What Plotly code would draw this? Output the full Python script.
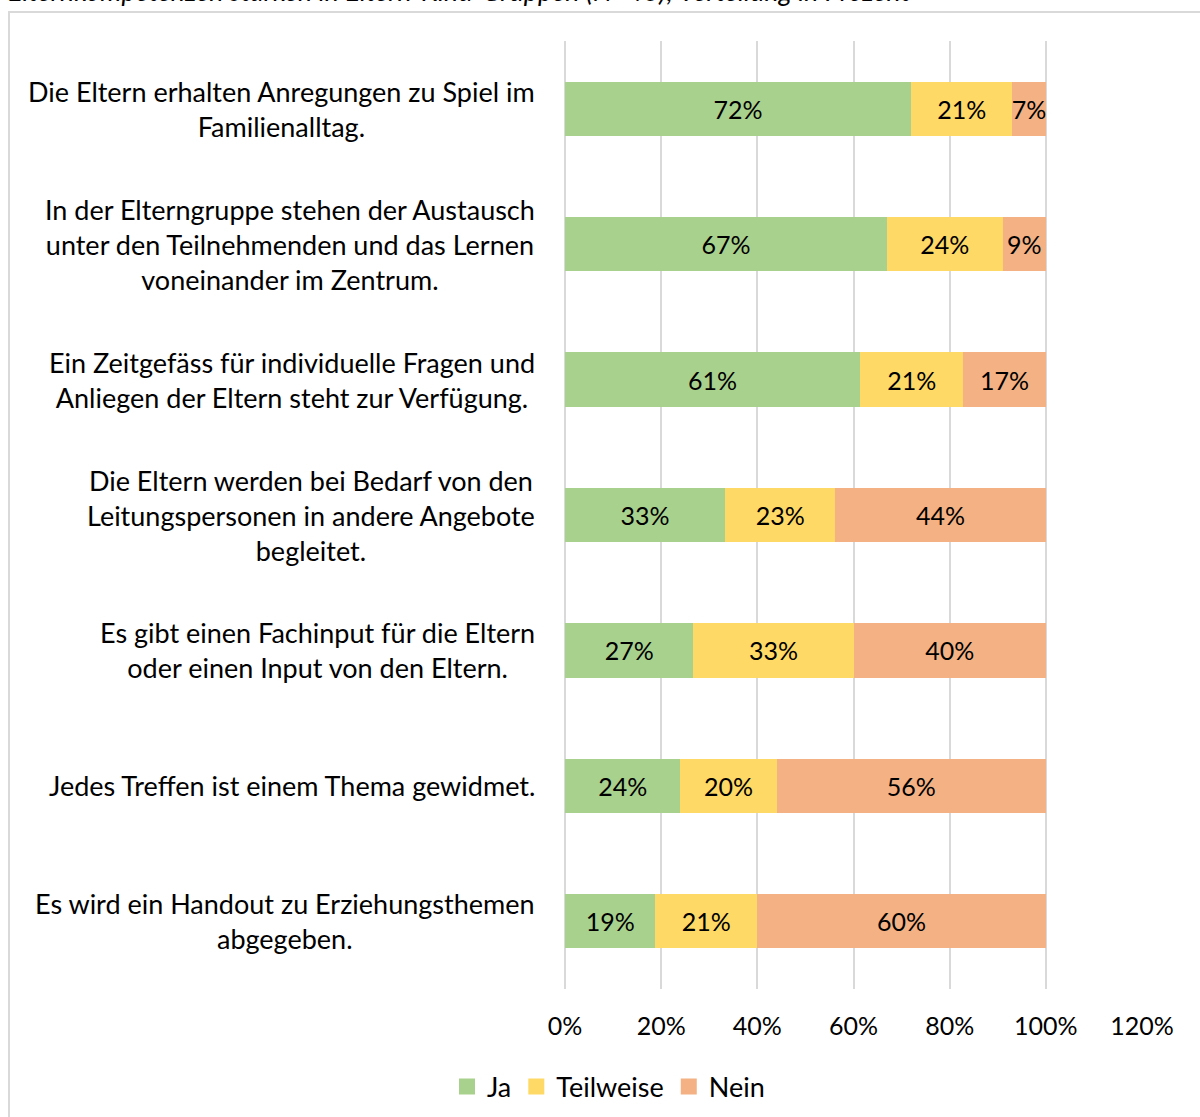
import plotly.graph_objects as go

# ---- data ----
categories = [
    "Die Eltern erhalten Anregungen zu Spiel im<br>Familienalltag.",
    "In der Elterngruppe stehen der Austausch<br>unter den Teilnehmenden und das Lernen<br>voneinander im Zentrum.",
    "Ein Zeitgefäss für individuelle Fragen und<br>Anliegen der Eltern steht zur Verfügung.",
    "Die Eltern werden bei Bedarf von den<br>Leitungspersonen in andere Angebote<br>begleitet.",
    "Es gibt einen Fachinput für die Eltern<br>oder einen Input von den Eltern.",
    "Jedes Treffen ist einem Thema gewidmet.",
    "Es wird ein Handout zu Erziehungsthemen<br>abgegeben.",
]
ja = [72, 67, 61.4, 33.3, 26.7, 24, 18.8]
teilweise = [21, 24, 21.4, 22.9, 33.3, 20, 21.2]
nein = [7, 9, 17.2, 43.8, 40.0, 56, 60]
series_names = ["Ja", "Teilweise", "Nein"]
tick_vals = [0, 20, 40, 60, 80, 100, 120]
tick_text = ["0%", "20%", "40%", "60%", "80%", "100%", "120%"]
title_text = "Elternkompetenzen stärken in Eltern-Kind-Gruppen (N=43); Verteilung in Prozent"

# ---- style ----
colors = ["#A9D18E", "#FFD966", "#F4B183"]
FONT = "Lato"
FS_CAT = 27
FS_BAR = 25
FS_TICK = 25
FS_LEG = 27
W, H = 1200, 1117
ML, MR, MT, MB = 565, 58, 41, 128
plot_w = W - ML - MR
plot_h = H - MT - MB

fig = go.Figure()
for name, vals, col in zip(series_names, [ja, teilweise, nein], colors):
    fig.add_trace(go.Bar(
        y=categories, x=vals, name=name, orientation="h",
        marker=dict(color=col, line=dict(width=0)),
        text=[f"{v:.0f}%" for v in vals],
        textposition="inside", insidetextanchor="middle",
        textangle=0,
        constraintext="none",
        textfont=dict(family=FONT, size=FS_BAR, color="black"),
        width=0.4,
        hoverinfo="skip",
        showlegend=False,
    ))
# legend entries (square swatches)
for name, col in zip(series_names, colors):
    fig.add_trace(go.Scatter(
        x=[None], y=[None], mode="markers", name=name,
        marker=dict(symbol="square", size=16, color=col),
        hoverinfo="skip",
    ))

for cat in categories:
    fig.add_annotation(
        x=0, xref="paper", y=cat, yref="y",
        text=cat, showarrow=False,
        xanchor="right", yanchor="middle", align="center",
        xshift=-28,
        font=dict(family=FONT, size=FS_CAT, color="black"),
    )

# cut-off title at the very top (as in the reference)
fig.add_annotation(
    x=(6 - ML) / plot_w, xref="paper",
    y=1 + (MT - 9) / plot_h, yref="paper",
    text=f"<i>{title_text}</i>", showarrow=False,
    xanchor="left", yanchor="bottom",
    font=dict(family=FONT, size=FS_CAT, color="black"),
)

# chart border (light grey)
fig.add_shape(
    type="rect", xref="paper", yref="paper",
    x0=(9 - ML) / plot_w, x1=(W + 20 - ML) / plot_w,
    y0=1 - (H + 20 - MT) / plot_h, y1=1 + (MT - 12) / plot_h,
    line=dict(color="#D9D9D9", width=2), fillcolor="rgba(0,0,0,0)",
    layer="below",
)

fig.update_layout(
    width=W, height=H,
    margin=dict(l=ML, r=MR, t=MT, b=MB, pad=0),
    barmode="stack",
    bargap=0.6,
    plot_bgcolor="white", paper_bgcolor="white",
    font=dict(family=FONT, size=FS_CAT, color="black"),
    uniformtext=dict(mode="show", minsize=FS_BAR),
    showlegend=True,
    legend=dict(
        orientation="h",
        xref="container", yref="container",
        x=447 / W, xanchor="left",
        y=(H - 1087) / H, yanchor="middle",
        font=dict(family=FONT, size=FS_LEG, color="black"),
        itemsizing="trace",
        traceorder="normal",
    ),
    xaxis=dict(
        range=[0, 120], tickvals=tick_vals, ticktext=tick_text,
        showgrid=True, gridcolor="#D9D9D9", gridwidth=2,
        zeroline=True, zerolinecolor="#D9D9D9", zerolinewidth=2,
        showline=False, ticks="", ticklabelstandoff=20,
        tickfont=dict(family=FONT, size=FS_TICK, color="black"),
        fixedrange=True, automargin=False,
    ),
    yaxis=dict(
        autorange="reversed", showticklabels=False, showgrid=False,
        showline=False, ticks="", zeroline=False, fixedrange=True,
        automargin=False,
    ),
)

fig.write_html(
    "out.html",
    config={"displayModeBar": False},
    post_script="document.body.style.margin='0';document.body.style.overflow='hidden';",
)
